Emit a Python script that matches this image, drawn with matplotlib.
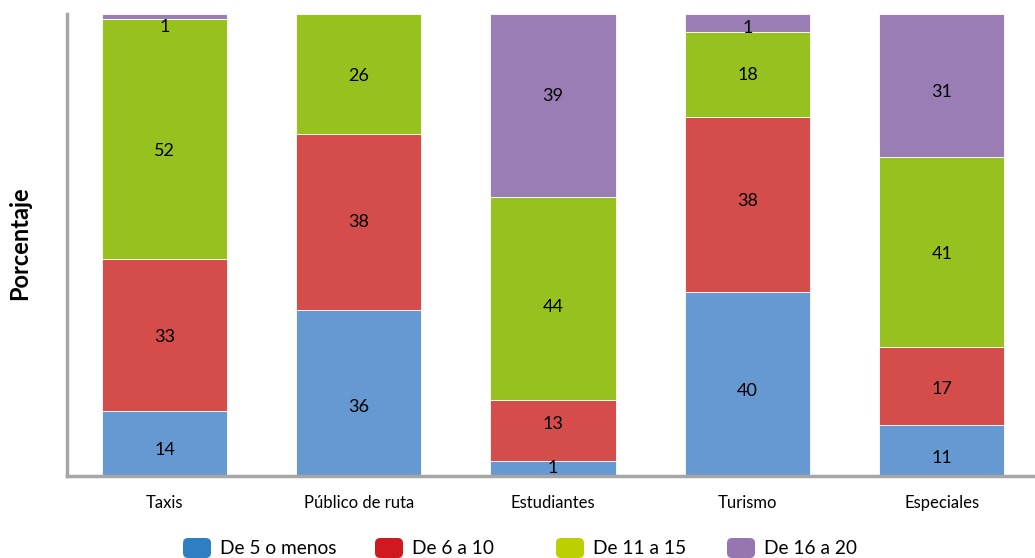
import numpy as np
import matplotlib
matplotlib.use('Agg')
import matplotlib.pyplot as plt
from matplotlib.patches import FancyBboxPatch

plt.rcParams['font.family'] = ['Lato', 'DejaVu Sans']

categories = ['Taxis', 'Público de ruta', 'Estudiantes', 'Turismo', 'Especiales']
series_names = ['De 5 o menos', 'De 6 a 10', 'De 11 a 15', 'De 16 a 20']

# segment shares as drawn (percent of bar height)
de_5_menos = [14, 36, 3.2, 39.8, 11]
de_6_10 = [33, 38, 13.3, 37.9, 17]
de_11_15 = [52, 26, 43.9, 18.3, 41]
de_16_20 = [1, 0, 39.6, 4.0, 31]

# numbers printed on the segments
labels_5 = ['14', '36', '1', '40', '11']
labels_6 = ['33', '38', '13', '38', '17']
labels_11 = ['52', '26', '44', '18', '41']
labels_16 = ['1', '', '39', '1', '31']

# the original labels sit a little off the segment middles (pixels, down = +)
shift_5 = [6, 14, -1, 7, 7]
shift_6 = [1.5, 0.5, -6, -4, 3]
shift_11 = [12.5, 1.5, 8.5, 0, 2]
shift_16 = [11, 0, -9.5, 4.5, 6]

bar_colors = ['#6699d1', '#d54d4a', '#97c11f', '#9b7db5']
legend_colors = ['#2e7ec4', '#d0191e', '#bccf00', '#9775b0']

series = [de_5_menos, de_6_10, de_11_15, de_16_20]
label_sets = [labels_5, labels_6, labels_11, labels_16]
shift_sets = [shift_5, shift_6, shift_11, shift_16]

W, H = 1035, 558
fig = plt.figure(figsize=(W / 100, H / 100), dpi=100)
ax = fig.add_axes([67 / W, 1 - 476 / H, 1 - 67 / W, (476 - 14) / H])

x = np.arange(len(categories))
bottom = np.zeros(len(categories))
for vals, labs, shifts, col in zip(series, label_sets, shift_sets, bar_colors):
    vals = np.array(vals, dtype=float)
    ax.bar(x, vals, bottom=bottom, width=0.645, color=col,
           edgecolor='white', linewidth=0.6)
    for xi, b, v, lab, sh in zip(x, bottom, vals, labs, shifts):
        if lab:
            ax.annotate(lab, (xi, b + v / 2), xytext=(0, -sh * 0.72),
                        textcoords='offset points', ha='center', va='center',
                        fontsize=13, color='black', annotation_clip=False)
    bottom += vals

ax.set_xlim(-0.502, 4.48)
ax.set_ylim(0, 100)
ax.set_yticks([])
ax.set_xticks(x)
ax.set_xticklabels(categories, fontsize=12)
ax.tick_params(axis='x', length=0, pad=14)
for s in ['top', 'right']:
    ax.spines[s].set_visible(False)
for s in ['left', 'bottom']:
    ax.spines[s].set_color('#a6a6a6')
    ax.spines[s].set_linewidth(2.5)
ax.spines['left'].set_capstyle('projecting')

fig.text(20 / W, 1 - 243 / H, 'Porcentaje', rotation=90, ha='center',
         va='center', fontsize=17, fontweight='bold')

# legend along the bottom
legend_x = [183, 375, 556, 727]
for lx, name, col in zip(legend_x, series_names, legend_colors):
    box = FancyBboxPatch((lx / W, 1 - 558 / H), 28 / W, 20 / H,
                         boxstyle='round,pad=0,rounding_size=0.005',
                         transform=fig.transFigure, facecolor=col,
                         edgecolor='none', mutation_aspect=W / H)
    fig.patches.append(box)
    fig.text((lx + 37) / W, 1 - 548 / H, name, ha='left', va='center',
             fontsize=13.8)

fig.savefig('out.png', dpi=100)
